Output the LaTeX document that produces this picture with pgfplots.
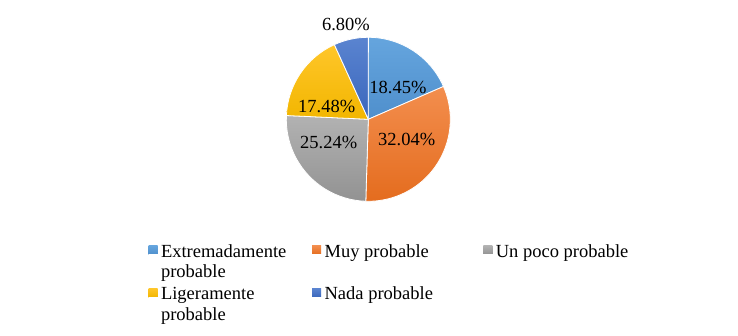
\documentclass[border=0pt]{standalone}
\usepackage{pgfplots}
\pgfplotsset{compat=1.18}
\usepackage{fontspec}
\setmainfont{Liberation Serif}
\definecolor{cAt}{HTML}{65A5DE}\definecolor{cAb}{HTML}{4F8FCC}
\definecolor{cBt}{HTML}{F38E4E}\definecolor{cBb}{HTML}{E46C1E}
\definecolor{cCt}{HTML}{B2B2B2}\definecolor{cCb}{HTML}{929292}
\definecolor{cDt}{HTML}{FFC62A}\definecolor{cDb}{HTML}{F2B600}
\definecolor{cEt}{HTML}{5A84D0}\definecolor{cEb}{HTML}{3A66BC}
% values (percent)
\def\vA{18.45}\def\vB{32.04}\def\vC{25.24}\def\vD{17.48}\def\vE{6.80}
\pgfmathsetmacro{\aO}{90}
\pgfmathsetmacro{\aI}{\aO-3.6*\vA}
\pgfmathsetmacro{\aII}{\aI-3.6*\vB}
\pgfmathsetmacro{\aIII}{\aII-3.6*\vC}
\pgfmathsetmacro{\aIV}{\aIII-3.6*\vD}
\pgfmathsetmacro{\aV}{\aIV-3.6*\vE}
\def\cx{368.3}\def\cy{216.7}
\newcommand\twoline[2]{\vtop{\hbox{#1}\hbox{#2}}}
\begin{document}
\begin{tikzpicture}
\begin{axis}[
  x=1pt, y=1pt, xmin=0, xmax=738, ymin=0, ymax=336,
  hide axis, clip=false, at={(0pt,0pt)}, anchor=origin,
  legend columns=3,
  legend image code/.code={\path[#1, draw=none] (0pt,2.5pt) rectangle (9pt,11.5pt);
    \path (0pt,2.5pt) -- (11pt,2.5pt);},
  legend style={at={(axis cs:148,93)}, anchor=north west, draw=none, fill=none,
    inner sep=0pt, font=\fontsize{18.5}{20.5}\selectfont,
    nodes={inner sep=1pt},
    cells={anchor=base west},
    row sep=26.5pt,
    /tikz/column 2/.style={column sep=24.5pt},
    /tikz/column 4/.style={column sep=49pt}},
]
\addplot[top color=cAt, bottom color=cAb, draw=white, line width=0.8pt]
  coordinates {(\cx,\cy)} -- ++(\aO:82pt) arc[start angle=\aO, end angle=\aI, radius=82pt] -- cycle;
\addlegendentry{\twoline{Extremadamente}{probable}}
\addplot[top color=cBt, bottom color=cBb, draw=white, line width=0.8pt]
  coordinates {(\cx,\cy)} -- ++(\aI:82pt) arc[start angle=\aI, end angle=\aII, radius=82pt] -- cycle;
\addlegendentry{Muy probable}
\addplot[top color=cCt, bottom color=cCb, draw=white, line width=0.8pt]
  coordinates {(\cx,\cy)} -- ++(\aII:82pt) arc[start angle=\aII, end angle=\aIII, radius=82pt] -- cycle;
\addlegendentry{Un poco probable}
\addplot[top color=cDt, bottom color=cDb, draw=white, line width=0.8pt]
  coordinates {(\cx,\cy)} -- ++(\aIII:82pt) arc[start angle=\aIII, end angle=\aIV, radius=82pt] -- cycle;
\addlegendentry{\twoline{Ligeramente}{probable}}
\addplot[top color=cEt, bottom color=cEb, draw=white, line width=0.8pt]
  coordinates {(\cx,\cy)} -- ++(\aIV:82pt) arc[start angle=\aIV, end angle=\aV, radius=82pt] -- cycle;
\addlegendentry{Nada probable}
\begin{scope}[every node/.style={font=\fontsize{18.5}{20.5}\selectfont, inner sep=0pt}]
\node at (axis cs:398,248.5) {18.45\%};
\node at (axis cs:406.7,197) {32.04\%};
\node at (axis cs:328.7,193.5) {25.24\%};
\node at (axis cs:326.7,229.3) {17.48\%};
\node at (axis cs:346,312) {6.80\%};
\end{scope}
\end{axis}
\pgfresetboundingbox
\path (0pt,0pt) rectangle (738pt,336pt);
\end{tikzpicture}
\end{document}
